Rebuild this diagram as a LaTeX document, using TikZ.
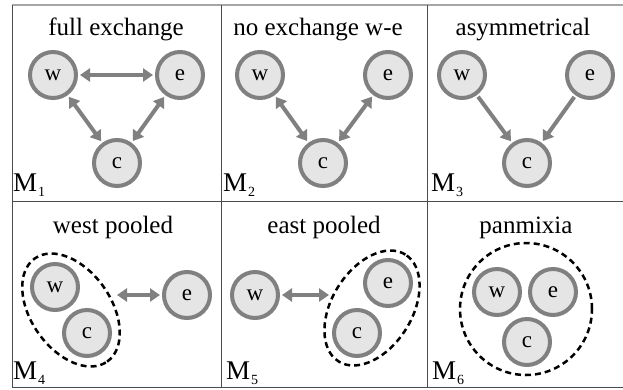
\documentclass[tikz,border=0pt]{standalone}
\usepackage{fontspec}
\setmainfont{Liberation Serif}
\usetikzlibrary{arrows.meta,shapes.geometric,positioning}
\definecolor{popedge}{gray}{0.5}
\definecolor{popfill}{gray}{0.9}
\definecolor{framegray}{gray}{0.3}
\tikzset{%
  pop/.style={circle, draw=popedge, fill=popfill, line width=4pt, minimum size=46pt, inner sep=0pt, font=\fontsize{23}{23}\selectfont},
  flow/.style={draw=popedge, line width=4pt, shorten <=2pt, shorten >=2pt, -{Triangle[length=10pt,width=13pt]}},
  both/.style={flow, {Triangle[length=10pt,width=13pt]}-{Triangle[length=10pt,width=13pt]}},
  pool/.style={ellipse, draw=black, line width=2.5pt, dash pattern=on 6pt off 4pt, inner sep=0pt, outer sep=0pt},
  heading/.style={anchor=base, font=\fontsize{25}{25}\selectfont},
  mlabel/.style={anchor=base west, inner sep=0pt, font=\fontsize{27}{27}\selectfont},
}
\newcommand{\modellabel}[3]{%
  \node [mlabel] (#1) at (#2) {M\kern1pt\raisebox{-5pt}{\fontsize{14}{14}\selectfont #3}};}

\begin{document}
\begin{tikzpicture}[x=1pt, y=-1pt]
  \useasboundingbox (0,0) rectangle (623,389);

  % frame
  \draw [gray!70, line width=2pt] (12.3,5) -- (623,5);
  \draw [framegray, line width=1pt] (12.3,5) -- (12.3,387.5) -- (623,387.5);
  \draw [framegray, line width=1pt] (12.3,201) -- (623,201);
  \draw [framegray, line width=1pt] (221.7,5) -- (221.7,387.5);
  \draw [framegray, line width=1pt] (427.3,5) -- (427.3,387.5);

  % M1 full exchange
  \node [heading] (t1) at (116,35) {full exchange};
  \node [pop] (w1) at (53,75) {w};
  \node [pop] (e1) at (180,75) {e};
  \node [pop] (c1) at (117,163) {c};
  \draw [both] (w1) -- (e1);
  \draw [both] (w1) -- (c1);
  \draw [both] (e1) -- (c1);
  \modellabel{m1}{13,191}{1}

  % M2 no exchange w-e
  \node [heading] (t2) at (318,35) {no exchange w-e};
  \node [pop] (w2) at (260,75) {w};
  \node [pop] (e2) at (388,75) {e};
  \node [pop] (c2) at (323,163) {c};
  \draw [both] (w2) -- (c2);
  \draw [both] (e2) -- (c2);
  \modellabel{m2}{223,191}{2}

  % M3 asymmetrical
  \node [heading] (t3) at (523,35) {asymmetrical};
  \node [pop] (w3) at (462,75) {w};
  \node [pop] (e3) at (590,75) {e};
  \node [pop] (c3) at (527,163) {c};
  \draw [flow] (w3) -- (c3);
  \draw [flow] (e3) -- (c3);
  \modellabel{m3}{431,191}{3}

  % M4 west pooled
  \node [heading] (t4) at (113,233) {west pooled};
  \node [pop] (w4) at (55,287) {w};
  \node [pop] (c4) at (87,333) {c};
  \node [pop] (e4) at (187,295) {e};
  \node [pool, minimum width=126pt, minimum height=80pt, rotate=-55] (pool4) at (71,310) {};
  \coordinate (j4) at (115,295);
  \draw [both] (j4) -- (e4);
  \modellabel{m4}{13,379}{4}

  % M5 east pooled
  \node [heading] (t5) at (324,233) {east pooled};
  \node [pop] (w5) at (255,295) {w};
  \node [pop] (e5) at (388,283) {e};
  \node [pop] (c5) at (357,333) {c};
  \node [pool, minimum width=126pt, minimum height=80pt, rotate=58] (pool5) at (372,308) {};
  \coordinate (j5) at (331,295);
  \draw [both] (w5) -- (j5);
  \modellabel{m5}{226,379}{5}

  % M6 panmixia
  \node [heading] (t6) at (526,233) {panmixia};
  \node [pop] (w6) at (497,292) {w};
  \node [pop] (e6) at (553,292) {e};
  \node [pop] (c6) at (527,342) {c};
  \node [pool, minimum width=132pt, minimum height=132pt] (pool6) at (526,309) {};
  \modellabel{m6}{432,379}{6}
\end{tikzpicture}
\end{document}
